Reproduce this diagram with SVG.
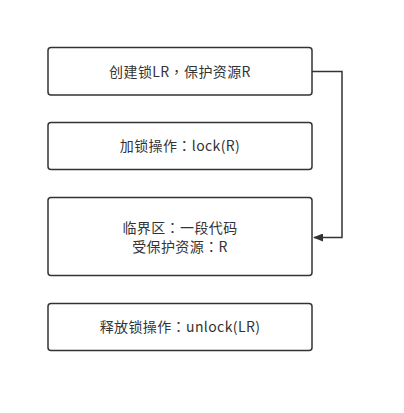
<svg xmlns="http://www.w3.org/2000/svg" width="404" height="413" viewBox="0 0 404 413">
<style>
.box{fill:#fff;stroke:#333;stroke-width:1.5}
.t{font-family:"Noto Sans CJK TC","Noto Sans CJK SC",sans-serif;font-size:14px;fill:#333;text-anchor:middle;letter-spacing:0.4px}
.c{fill:none;stroke:#333;stroke-width:1.5}
</style>
<defs>
<marker id="ah" markerWidth="10" markerHeight="8" refX="9" refY="4" orient="auto" markerUnits="userSpaceOnUse">
<path d="M0,0 L10,4 L0,8 Z" fill="#333"/>
</marker>
</defs>
<rect width="404" height="413" fill="#fff"/>
<g id="connectors">
<path class="c" d="M312,71.5 H342 V237.5 H314" marker-end="url(#ah)"/>
</g>
<g id="n1">
<rect class="box" x="48" y="47.5" width="264" height="47.5" rx="3"/>
<text class="t" x="180" y="76.5">创建锁LR，保护资源R</text>
</g>
<g id="n2">
<rect class="box" x="48" y="122.5" width="264" height="47" rx="3"/>
<text class="t" x="180" y="151">加锁操作：lock(R)</text>
</g>
<g id="n3">
<rect class="box" x="48" y="197.5" width="264" height="78" rx="3"/>
<text class="t" x="180" y="232.5">临界区：一段代码</text>
<text class="t" x="180" y="251.5">受保护资源：R</text>
</g>
<g id="n4">
<rect class="box" x="48" y="303.5" width="264" height="47" rx="3"/>
<text class="t" x="180" y="332">释放锁操作：unlock(LR)</text>
</g>
</svg>
